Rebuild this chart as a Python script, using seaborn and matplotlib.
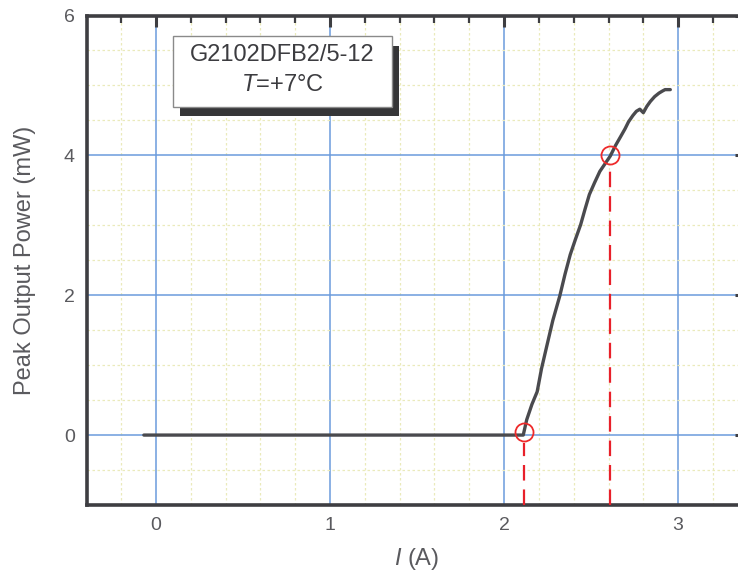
import matplotlib
matplotlib.use("Agg")
import matplotlib.pyplot as plt
import seaborn as sns
import pandas as pd
from matplotlib.ticker import MultipleLocator
from matplotlib.patches import Rectangle

# ---- data ----
current_A = [-0.07, 2.11, 2.13, 2.16, 2.19, 2.215, 2.245, 2.28, 2.32, 2.35, 2.38,
             2.41, 2.44, 2.465, 2.49, 2.52, 2.55, 2.58, 2.61, 2.64, 2.67, 2.695,
             2.715, 2.74, 2.76, 2.78, 2.80, 2.82, 2.84, 2.865, 2.89, 2.91,
             2.925, 2.955]
power_mW = [0.0, 0.0, 0.22, 0.44, 0.62, 0.95, 1.27, 1.64, 1.99, 2.30, 2.58,
            2.80, 3.01, 3.23, 3.44, 3.61, 3.77, 3.88, 3.99, 4.14, 4.27, 4.38,
            4.48, 4.57, 4.63, 4.66, 4.61, 4.70, 4.77, 4.84, 4.89, 4.92,
            4.94, 4.94]
mark_I = [2.115, 2.606]
mark_P = [0.04, 4.0]
label_line1 = "G2102DFB2/5-12"
label_line2 = "$T$=+7°C"

df = pd.DataFrame({"I": current_A, "P": power_mW})

sns.set_style("white")
plt.rcParams["font.family"] = ["Liberation Sans", "DejaVu Sans"]
plt.rcParams["mathtext.fontset"] = "custom"
plt.rcParams["mathtext.it"] = "Liberation Sans:italic"
plt.rcParams["mathtext.rm"] = "Liberation Sans"

fig = plt.figure(figsize=(7.38, 5.78), dpi=100)
ax = fig.add_axes([87.3 / 738, 73 / 578, (746 - 87.3) / 738, (505 - 15.5) / 578])

xmin, xmax = -0.395, 3.39
ymin, ymax = -1.0, 6.0

# grids
ax.set_axisbelow(True)
ax.xaxis.set_major_locator(MultipleLocator(1))
ax.yaxis.set_major_locator(MultipleLocator(2))
ax.xaxis.set_minor_locator(MultipleLocator(0.2))
ax.yaxis.set_minor_locator(MultipleLocator(0.5))
ax.grid(which="minor", color="#eaeabb", linewidth=0.9, linestyle=(0, (2, 2)))
ax.grid(which="major", color="#6b9bdc", linewidth=1.1, linestyle="-")

sns.lineplot(data=df, x="I", y="P", ax=ax, color="#4a4a4e", linewidth=2.4,
             sort=False, estimator=None)

# red markers and dashed drop lines
ax.vlines([mark_I[0]], ymin, mark_P[0] - 0.16, colors="#e8202a",
          linewidth=1.6, linestyles=[(0, (7, 4))], zorder=3)
ax.vlines([mark_I[1]], ymin, mark_P[1] - 0.14, colors="#e8202a",
          linewidth=1.6, linestyles=[(0, (7, 4))], zorder=3)
ax.plot(mark_I, mark_P, linestyle="none", marker="o", markersize=13,
        markerfacecolor="none", markeredgecolor="#ee2a2a", markeredgewidth=1.3,
        zorder=4)

ax.set_xlim(xmin, xmax)
ax.set_ylim(ymin, ymax)

# annotation box with shadow
ax.add_patch(Rectangle((0.138, 4.565), 1.259, 1.0, facecolor="#363638",
                       edgecolor="none", zorder=5))
ax.add_patch(Rectangle((0.098, 4.693), 1.258, 1.014, facecolor="white",
                       edgecolor="#8a8a8a", linewidth=1.0, zorder=6))
ax.text(0.727, 5.43, label_line1, ha="center", va="center", fontsize=17,
        color="#3c3c40", zorder=7)
ax.text(0.727, 5.0, label_line2, ha="center", va="center", fontsize=17,
        color="#3c3c40", zorder=7)

# spines and ticks
for side, sp in ax.spines.items():
    sp.set_color("#3e3e42")
    sp.set_linewidth(2.6)
ax.tick_params(which="both", direction="in", top=True, right=True,
               color="#3e3e42", labelcolor="#5a5a5e")
ax.tick_params(which="major", length=8, width=2.2, labelsize=14, pad=9)
ax.tick_params(which="minor", length=5, width=1.6)

ax.set_xlabel("$I$ (A)", fontsize=17, color="#5a5a5e", labelpad=8)
ax.set_ylabel("Peak Output Power (mW)", fontsize=17, color="#5a5a5e", labelpad=20)

fig.savefig("out.png", dpi=100)
